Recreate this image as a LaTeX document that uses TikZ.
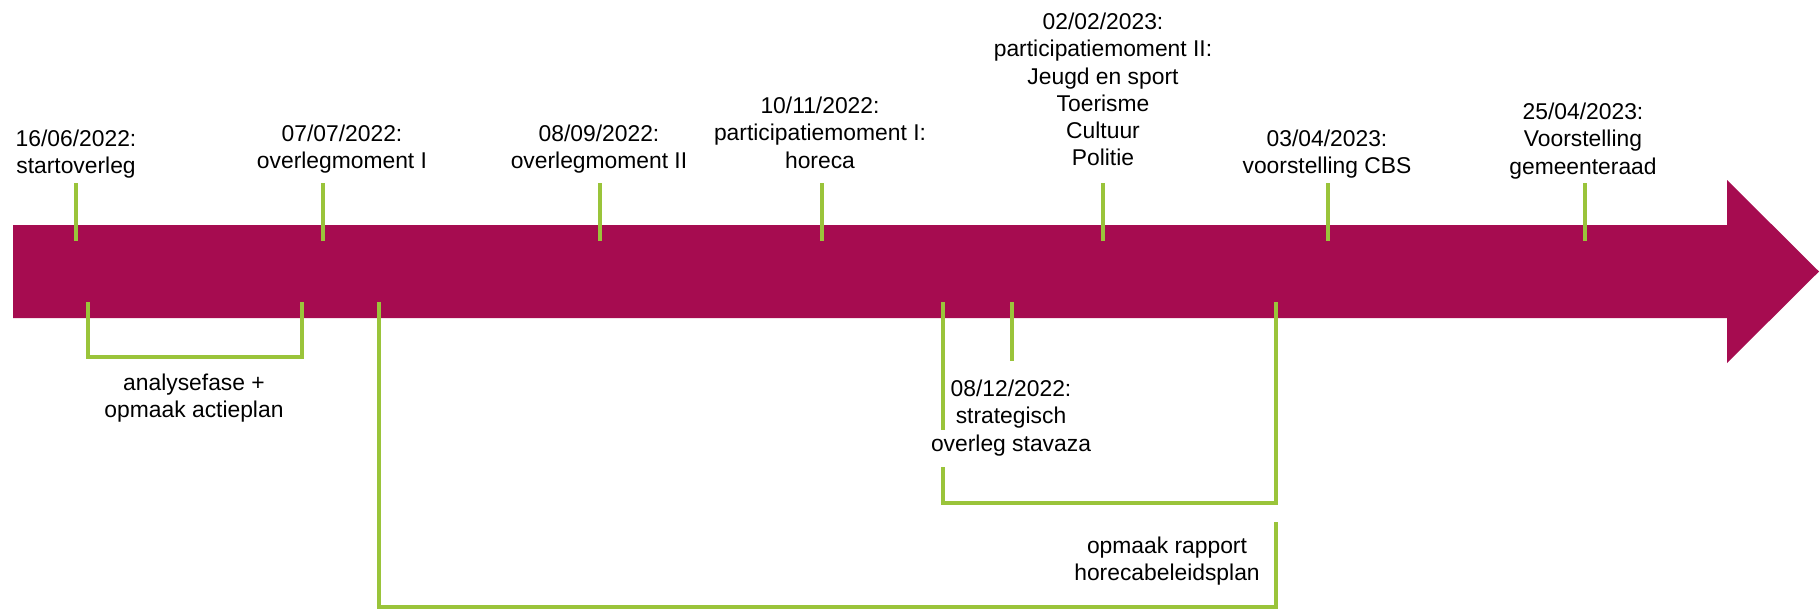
\documentclass[tikz,border=0pt]{standalone}
\usepackage{fontspec}
\setmainfont{Liberation Sans}
\usetikzlibrary{calc}
\definecolor{barmagenta}{HTML}{A60C50}
\definecolor{tickgreen}{HTML}{9AC43A}

\begin{document}
\begin{tikzpicture}[x=0.02cm,y=-0.02cm,
    lbl/.style={align=center,inner sep=0pt,anchor=north,
      font=\fontsize{13}{15.4}\selectfont},
    greenline/.style={draw=tickgreen,line width=2.6pt}]
  \useasboundingbox (0,0) rectangle (1820,609);
  % the big arrow
  \fill[barmagenta] (13,225) -- (1727,225) -- (1727,180) -- (1819,271.5)
    -- (1727,363) -- (1727,318) -- (13,318) -- cycle;

  % moments above the arrow
  \node[lbl] (start) at (76,130) {16/06/2022:\\startoverleg};
  \node[lbl] (ovl1) at (342,125) {07/07/2022:\\overlegmoment I};
  \node[lbl] (ovl2) at (599,125) {08/09/2022:\\overlegmoment II};
  \node[lbl] (part1) at (820,97) {10/11/2022:\\participatiemoment I:\\horeca};
  \node[lbl] (part2) at (1103,13) {02/02/2023:\\participatiemoment II:\\Jeugd en sport\\Toerisme\\Cultuur\\Politie};
  \node[lbl] (cbs) at (1327,130) {03/04/2023:\\voorstelling CBS};
  \node[lbl] (raad) at (1583,103) {25/04/2023:\\Voorstelling\\gemeenteraad};

  \draw[greenline] (76,183) -- (76,241);
  \draw[greenline] (323,183) -- (323,241);
  \draw[greenline] (600,183) -- (600,241);
  \draw[greenline] (822,183) -- (822,241);
  \draw[greenline] (1103,183) -- (1103,241);
  \draw[greenline] (1328,183) -- (1328,241);
  \draw[greenline] (1585,183) -- (1585,241);

  % phases below the arrow
  \draw[greenline] (88,302) -- (88,357) -- (302,357) -- (302,302);
  \node[lbl] (analyse) at (194,374) {analysefase +\\opmaak actieplan};

  \draw[greenline] (379,302) -- (379,607) -- (1276,607) -- (1276,522);
  \node[lbl] (rapport) at (1167,537) {opmaak rapport\\horecabeleidsplan};

  \draw[greenline] (943,302) -- (943,430);
  \draw[greenline] (943,467) -- (943,503) -- (1276,503) -- (1276,302);
  \draw[greenline] (1012,302) -- (1012,361);
  \node[lbl] (strat) at (1011,380) {08/12/2022:\\strategisch\\overleg stavaza};
\end{tikzpicture}
\end{document}
